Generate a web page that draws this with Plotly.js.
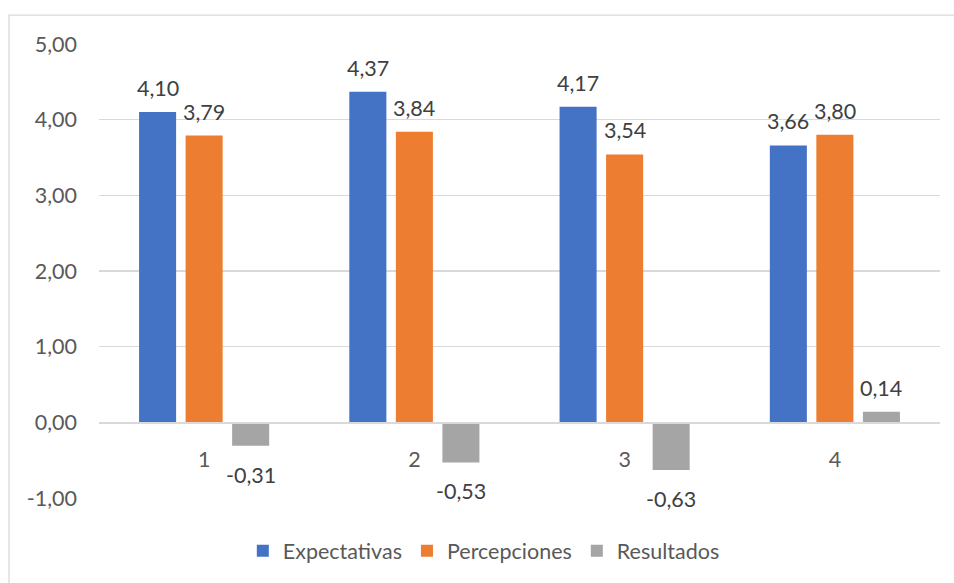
<!DOCTYPE html>
<html>
<head>
<meta charset="utf-8">
<script src="https://cdn.plot.ly/plotly-3.0.1.min.js"></script>
<style>
html,body{margin:0;padding:0;background:#fff;}
#chart{width:954px;height:583px;}
</style>
</head>
<body>
<div id="chart"></div>
<script>
const categories = ['1', '2', '3', '4'];
const expectativas = [4.10, 4.37, 4.17, 3.66];
const percepciones = [3.79, 3.84, 3.54, 3.80];
const resultados = [-0.31, -0.53, -0.63, 0.14];
const seriesNames = ['Expectativas', 'Percepciones', 'Resultados'];
const seriesColors = ['#4472C4', '#ED7D31', '#A5A5A5'];
const yTickVals = [-1, 0, 1, 2, 3, 4, 5];
const yTickLabels = ['-1,00', '0,00', '1,00', '2,00', '3,00', '4,00', '5,00'];

const allSeries = [expectativas, percepciones, resultados];
const BARGAP = 0.336, GROUPGAP = 0.204;
const FONT = 'Lato, "Open Sans", sans-serif';
const FS = 21.5;

const traces = allSeries.map((vals, i) => ({
  type: 'bar',
  name: seriesNames[i],
  x: categories,
  y: vals,
  marker: {color: seriesColors[i]},
  hoverinfo: 'x+y+name'
}));

const slot = (1 - BARGAP) / allSeries.length;
const annotations = [];
allSeries.forEach((vals, i) => {
  vals.forEach((v, j) => {
    annotations.push({
      x: j + (i - (allSeries.length - 1) / 2) * slot,
      y: v,
      xref: 'x', yref: 'y',
      text: v.toFixed(2).replace('.', ','),
      showarrow: false,
      yanchor: 'middle',
      xanchor: 'center',
      yshift: v >= 0 ? 24 : -29,
      font: {family: FONT, size: FS, color: '#404040'}
    });
  });
});

const plotTop = 44, plotBottom = 500, plotLeft = 99, plotRight = 940;
const ph = plotBottom - plotTop, pw = plotRight - plotLeft;

const layout = {
  width: 954, height: 583,
  margin: {l: plotLeft, r: 954 - plotRight, t: plotTop, b: 583 - plotBottom, pad: 0},
  paper_bgcolor: '#ffffff',
  plot_bgcolor: '#ffffff',
  separators: ',.',
  font: {family: FONT, size: FS, color: '#595959'},
  barmode: 'group',
  bargap: BARGAP,
  bargroupgap: GROUPGAP,
  showlegend: true,
  legend: {
    orientation: 'h',
    x: 0.171, xanchor: 'left',
    y: -0.116, yanchor: 'middle',
    font: {family: FONT, size: FS, color: '#595959'},
    bgcolor: 'rgba(0,0,0,0)'
  },
  xaxis: {
    type: 'category',
    anchor: 'free',
    position: (0 - (-1)) / 6,
    showgrid: false,
    zeroline: false,
    showline: true,
    linecolor: '#D9D9D9',
    linewidth: 1.3,
    ticks: '',
    ticklabelstandoff: 18,
    tickfont: {family: FONT, size: FS, color: '#595959'}
  },
  yaxis: {
    range: [-1, 5],
    tickmode: 'array',
    tickvals: yTickVals,
    ticktext: yTickLabels,
    showgrid: true,
    gridcolor: '#D9D9D9',
    gridwidth: 1.3,
    zeroline: false,
    showline: false,
    ticks: '',
    ticklabelstandoff: 21,
    tickfont: {family: FONT, size: FS, color: '#595959'}
  },
  annotations: annotations,
  shapes: [{
    type: 'rect',
    xref: 'paper', yref: 'paper',
    x0: (9 - plotLeft) / pw, x1: 1.2,
    y0: -0.3, y1: (plotBottom - 15) / ph,
    line: {color: '#D9D9D9', width: 1.3},
    fillcolor: 'rgba(0,0,0,0)',
    layer: 'below'
  }]
};

Plotly.newPlot('chart', traces, layout, {displayModeBar: false, staticPlot: true});
</script>
</body>
</html>
